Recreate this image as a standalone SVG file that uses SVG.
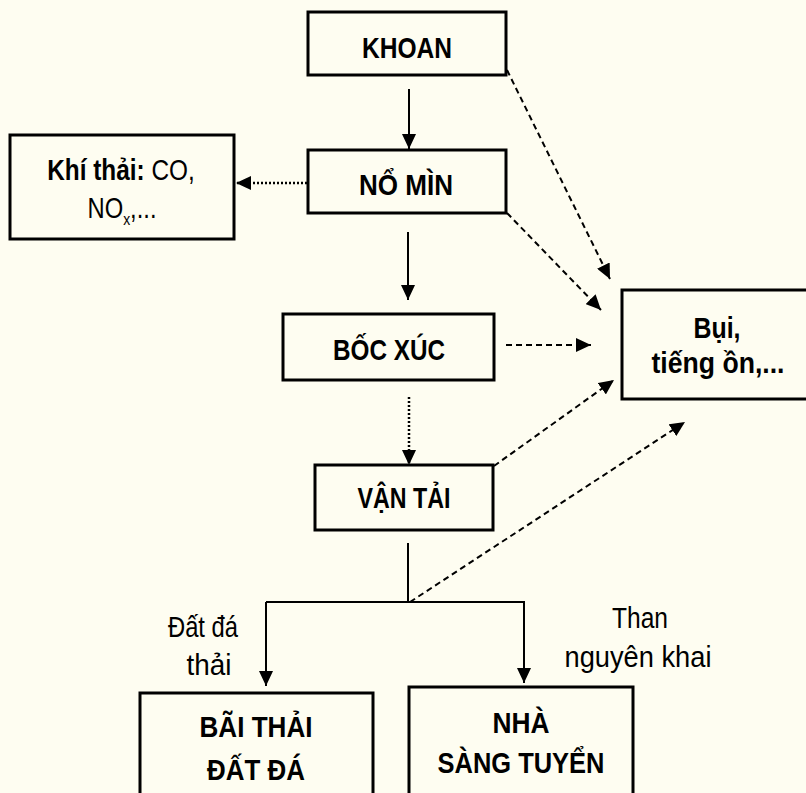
<svg xmlns="http://www.w3.org/2000/svg" width="806" height="793" viewBox="0 0 806 793">
<defs>
<marker id="ah" markerUnits="userSpaceOnUse" markerWidth="16" markerHeight="14" refX="15" refY="7" orient="auto">
<path d="M0,0 L15,7 L0,14 z" fill="#000"/>
</marker>
<style>
.box{fill:none;stroke:#000;stroke-width:3}
.t{font-family:"Liberation Sans",Arial,sans-serif;fill:#000;text-anchor:middle}
.b{font-weight:bold;font-size:30px}
.n{font-weight:normal;font-size:29px}
.solid{stroke:#000;stroke-width:2;fill:none}
.dash{stroke:#000;stroke-width:2;fill:none;stroke-dasharray:6 4}
.dot{stroke:#000;stroke-width:2.5;fill:none;stroke-dasharray:2 2}
</style>
</defs>
<rect width="806" height="793" fill="#fefdf1"/>
<g id="connectors">
<line class="solid" x1="409" y1="89" x2="409" y2="149" marker-end="url(#ah)"/>
<line class="dot" x1="307" y1="183" x2="236" y2="183" marker-end="url(#ah)"/>
<line class="solid" x1="408" y1="232" x2="408" y2="300" marker-end="url(#ah)"/>
<line class="dot" x1="409" y1="397" x2="409" y2="465" marker-end="url(#ah)"/>
<line class="dash" x1="507" y1="70" x2="610" y2="279" marker-end="url(#ah)"/>
<line class="dash" x1="507" y1="213" x2="601" y2="310" marker-end="url(#ah)"/>
<line class="dash" x1="506" y1="345" x2="591" y2="345" marker-end="url(#ah)"/>
<line class="dash" x1="494" y1="466" x2="614" y2="380" marker-end="url(#ah)"/>
<line class="dash" x1="410" y1="602" x2="685" y2="422" marker-end="url(#ah)"/>
<polyline class="solid" points="408,543 408,602"/>
<polyline class="solid" points="266,602 524,602 524,683" marker-end="url(#ah)"/>
<line class="solid" x1="266" y1="602" x2="266" y2="686" marker-end="url(#ah)"/>
</g>
<g id="khoan"><rect class="box" x="308" y="12" width="198" height="63"/><text class="t b" x="407" y="58" textLength="90" lengthAdjust="spacingAndGlyphs">KHOAN</text></g>
<g id="nomin"><rect class="box" x="308" y="150" width="198" height="63"/><text class="t b" x="406" y="195" textLength="94" lengthAdjust="spacingAndGlyphs">NỔ MÌN</text></g>
<g id="khithai"><rect class="box" x="10" y="135" width="224" height="104"/>
<text class="t n" transform="translate(121,180) scale(0.84,1)" x="0" y="0"><tspan font-weight="bold">Khí thải:</tspan> CO,</text>
<text class="t n" transform="translate(122,218) scale(0.82,1)" x="0" y="0">NO<tspan font-size="17" dy="7">x</tspan><tspan dy="-7">,...</tspan></text>
</g>
<g id="bocxuc"><rect class="box" x="283" y="314" width="211" height="66"/><text class="t b" x="389" y="360" textLength="112" lengthAdjust="spacingAndGlyphs">BỐC XÚC</text></g>
<g id="bui"><rect class="box" x="622" y="290" width="190" height="109"/><text class="t b" x="717" y="338" textLength="47" lengthAdjust="spacingAndGlyphs" style="font-size:29px">Bụi,</text><text class="t b" x="718" y="373" textLength="133" lengthAdjust="spacingAndGlyphs" style="font-size:29px">tiếng ồn,...</text></g>
<g id="vantai"><rect class="box" x="315" y="465" width="178" height="65"/><text class="t b" x="404" y="508" textLength="93" lengthAdjust="spacingAndGlyphs">VẬN TẢI</text></g>
<g id="labels"><text class="t n" x="203" y="637" textLength="70" lengthAdjust="spacingAndGlyphs">Đất đá</text><text class="t n" x="209" y="675" textLength="45" lengthAdjust="spacingAndGlyphs">thải</text><text class="t n" x="640" y="628" textLength="56" lengthAdjust="spacingAndGlyphs">Than</text><text class="t n" x="638" y="667" textLength="147" lengthAdjust="spacingAndGlyphs">nguyên khai</text></g>
<g id="baithai"><rect class="box" x="140" y="693" width="233" height="110"/><text class="t b" x="256" y="737" textLength="113" lengthAdjust="spacingAndGlyphs">BÃI THẢI</text><text class="t b" x="256" y="780" textLength="98" lengthAdjust="spacingAndGlyphs">ĐẤT ĐÁ</text></g>
<g id="nhasang"><rect class="box" x="409" y="687" width="224" height="116"/><text class="t b" x="521" y="733" textLength="57" lengthAdjust="spacingAndGlyphs">NHÀ</text><text class="t b" x="521" y="773" textLength="167" lengthAdjust="spacingAndGlyphs">SÀNG TUYỂN</text></g>
</svg>
